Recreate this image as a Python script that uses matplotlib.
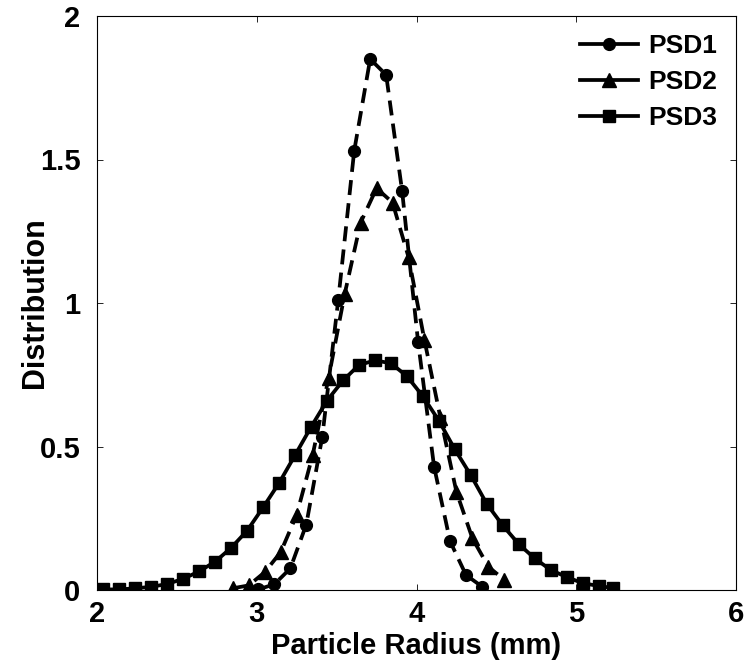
import matplotlib
matplotlib.use("Agg")
import matplotlib.pyplot as plt
from matplotlib.lines import Line2D

plt.rcParams['font.family'] = ['Liberation Sans', 'DejaVu Sans']
plt.rcParams['font.weight'] = 'bold'

# PSD1 (circles, dashed)
psd1_x = [3.01, 3.11, 3.21, 3.31, 3.41, 3.51, 3.61, 3.71, 3.81, 3.91, 4.01, 4.11, 4.21, 4.31, 4.41]
psd1_y = [0.002, 0.02, 0.075, 0.228, 0.533, 1.01, 1.53, 1.85, 1.795, 1.39, 0.864, 0.43, 0.17, 0.052, 0.012]

# PSD2 (triangles, dashed)
psd2_x = [2.85, 2.95, 3.05, 3.15, 3.25, 3.35, 3.45, 3.55, 3.65, 3.75, 3.85, 3.95, 4.05, 4.15, 4.25, 4.35, 4.45, 4.55]
psd2_y = [0.006, 0.016, 0.062, 0.132, 0.262, 0.47, 0.74, 1.03, 1.28, 1.40, 1.35, 1.16, 0.87, 0.60, 0.342, 0.18, 0.081, 0.035]

# PSD3 (squares, solid)
psd3_x = [2.04, 2.14, 2.24, 2.34, 2.44, 2.54, 2.64, 2.74, 2.84, 2.94, 3.04, 3.14, 3.24, 3.34,
          3.44, 3.54, 3.64, 3.74, 3.84, 3.94, 4.04, 4.14, 4.24, 4.34, 4.44, 4.54, 4.64, 4.74,
          4.84, 4.94, 5.04, 5.14, 5.23]
psd3_y = [0.002, 0.002, 0.006, 0.011, 0.021, 0.039, 0.065, 0.099, 0.147, 0.207, 0.288, 0.373,
          0.47, 0.568, 0.66, 0.73, 0.784, 0.80, 0.79, 0.745, 0.675, 0.59, 0.49, 0.40, 0.30,
          0.225, 0.16, 0.11, 0.07, 0.045, 0.024, 0.014, 0.007]

labels = ["PSD1", "PSD2", "PSD3"]
xticks = [2, 3, 4, 5, 6]
yticks = [0, 0.5, 1, 1.5, 2]
ytick_labels = ["0", "0.5", "1", "1.5", "2"]

fig = plt.figure(figsize=(7.46, 6.68), dpi=100)
ax = fig.add_axes([97/746, 78/668, 639/746, 574/668])

lw = 2.7
ms_c, ms_t, ms_s = 8.5, 9.5, 8.5
ax.plot(psd1_x, psd1_y, color='black', lw=lw, ls=(0, (4, 2.2)), marker='o', ms=ms_c)
ax.plot(psd2_x, psd2_y, color='black', lw=lw, ls=(0, (4, 2.2)), marker='^', ms=ms_t)
ax.plot(psd3_x, psd3_y, color='black', lw=lw, ls='-', marker='s', ms=ms_s)

ax.set_xlim(2, 6)
ax.set_ylim(0, 2)
ax.set_xticks(xticks)
ax.set_xticklabels([str(t) for t in xticks])
ax.set_yticks(yticks)
ax.set_yticklabels(ytick_labels)
ax.tick_params(direction='in', top=True, right=True, length=4, width=0.6,
               labelsize=21, pad=7)
ax.tick_params(axis='y', pad=12)
for lab in ax.get_xticklabels() + ax.get_yticklabels():
    lab.set_fontweight('bold')
for s in ax.spines.values():
    s.set_linewidth(0.8)

ax.set_xlabel("Particle Radius (mm)", fontsize=21, fontweight='bold', labelpad=3)
ax.set_ylabel("Distribution", fontsize=22, fontweight='bold')
ax.yaxis.set_label_coords(-0.074, 0.5)

handles = [
    Line2D([], [], color='black', lw=lw, marker='o', ms=ms_c),
    Line2D([], [], color='black', lw=lw, marker='^', ms=ms_t),
    Line2D([], [], color='black', lw=lw, marker='s', ms=ms_s),
]
ax.legend(handles, labels, loc='upper right', frameon=False,
          handlelength=2.2, handletextpad=0.4, labelspacing=0.45,
          borderaxespad=0.3, borderpad=0.4, prop={'weight': 'bold', 'size': 19})

fig.savefig("out.png", dpi=100)
